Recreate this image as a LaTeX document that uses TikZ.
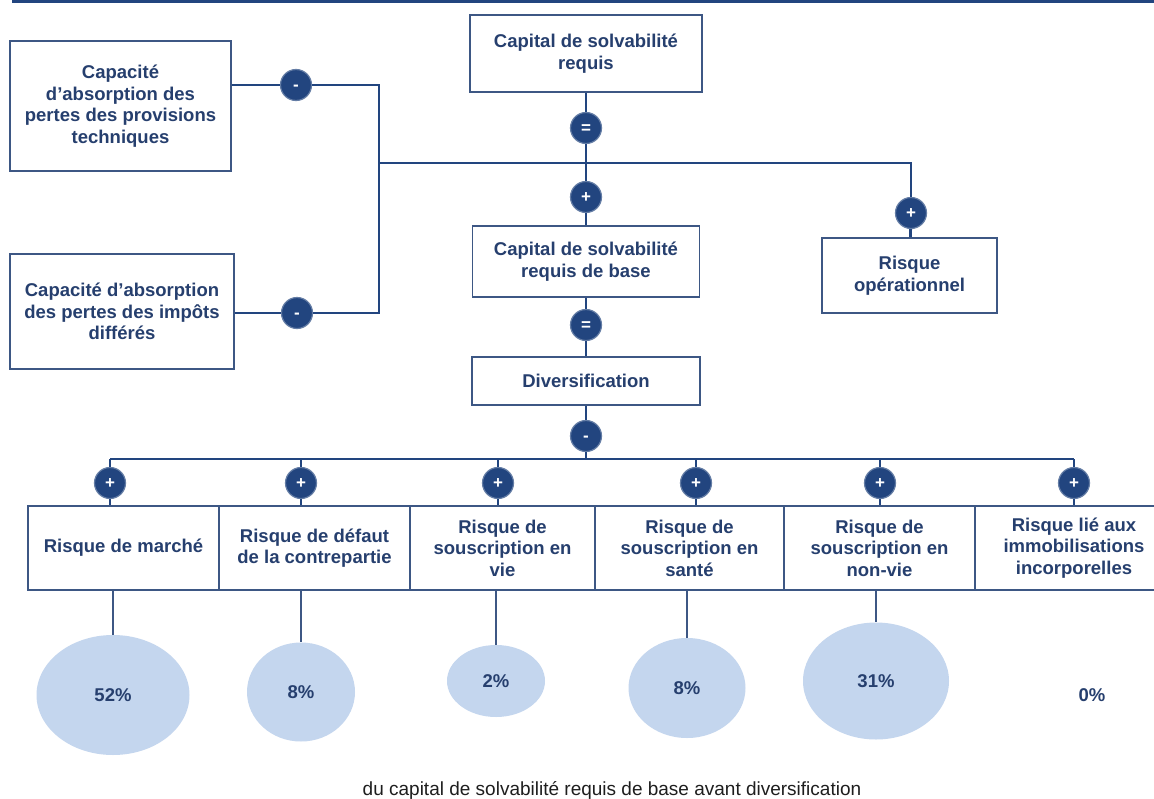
\documentclass[tikz,border=0pt]{standalone}
\usepackage{fontspec}
\setmainfont{Liberation Sans}
\usetikzlibrary{shapes.geometric}
\definecolor{navy}{HTML}{22457F}
\definecolor{txt}{HTML}{263F6E}
\definecolor{bord}{HTML}{3D5784}
\definecolor{bub}{HTML}{C4D6EE}
\definecolor{capc}{HTML}{1E1E1E}
\begin{document}
\begin{tikzpicture}[x=1pt,y=-1pt,
 box/.style={draw=bord,line width=1.8pt,fill=white,inner sep=0pt,align=center,text=txt,font=\fontsize{18.5}{21.5}\selectfont\bfseries},
 opc/.style={circle,fill=navy,draw=navy!70!white,line width=1.2pt,minimum size=31pt,inner sep=0pt,text=white,text height=11.6pt,text depth=0pt,font=\fontsize{17}{17}\selectfont\bfseries},
 link/.style={draw=navy,line width=2.8pt},
 stem/.style={draw=bord,line width=1.3pt},
 bubble/.style={ellipse,fill=bub,inner sep=0pt,text=txt,font=\fontsize{18.5}{18.5}\selectfont\bfseries},
 pct/.style={text=txt,font=\fontsize{18.5}{18.5}\selectfont\bfseries},
 capt/.style={text=capc,font=\fontsize{19}{19}\selectfont}
]
\useasboundingbox (0,0) rectangle (1154,798);
\clip (0,0) rectangle (1154,798);
\fill[white] (0,0) rectangle (1154,798);

% top rule
\coordinate (TL) at (12,1.5);
\coordinate (TR) at (1154,1.5);
\draw[draw=navy,line width=3pt] (TL) -- (TR);

% upper boxes
\node[box,minimum width=221pt,minimum height=130pt] (A1) at (120.5,106) {Capacité\\d’absorption des\\pertes des provisions\\techniques};
\node[box,minimum width=224pt,minimum height=115pt] (A2) at (122,311.5) {Capacité d’absorption\\des pertes des impôts\\différés};
\node[box,minimum width=232pt,minimum height=77pt] (C1) at (586,53.5) {Capital de solvabilité\\requis};
\node[box,minimum width=227pt,minimum height=71pt] (C2) at (586,261.5) {Capital de solvabilité\\requis de base};
\node[box,minimum width=228pt,minimum height=48pt] (C3) at (586,381) {Diversification};
\node[box,minimum width=175pt,minimum height=75pt] (OP) at (909.5,275.5) {Risque\\opérationnel};

% operators
\node[opc] (m1) at (296,85) {-};
\node[opc] (m2) at (297,313) {-};
\node[opc] (e1) at (586,128) {=};
\node[opc] (p1) at (586,197) {+};
\node[opc] (pop) at (911,213) {+};
\node[opc] (e2) at (586,325) {=};
\node[opc] (m3) at (586,436) {-};

\coordinate (K) at (379,85);
\coordinate (L) at (379,313);
\coordinate (J) at (379,163);
\coordinate (BT) at (586,459);

% upper connectors
\draw[link] (A1.east |- m1) -- (m1);
\draw[link] (m1) -- (K) -- (L) -- (m2);
\draw[link] (m2) -- (A2.east |- m2);
\draw[link] (J) -- (J -| pop) -- (pop);
\draw[link] (pop) -- (OP);
\draw[link] (C1) -- (e1);
\draw[link] (e1) -- (p1);
\draw[link] (p1) -- (C2);
\draw[link] (C2) -- (e2);
\draw[link] (e2) -- (C3);
\draw[link] (C3) -- (m3);
\draw[link] (m3) -- (BT);

% risk boxes
\node[box,minimum width=191pt,minimum height=84pt] (R1) at (123.5,548) {Risque de marché};
\node[box,minimum width=191pt,minimum height=84pt] (R2) at (314.5,548) {Risque de défaut\\de la contrepartie};
\node[box,minimum width=185pt,minimum height=84pt] (R3) at (502.5,548) {Risque de\\souscription en\\vie};
\node[box,minimum width=189pt,minimum height=84pt] (R4) at (689.5,548) {Risque de\\souscription en\\santé};
\node[box,minimum width=191pt,minimum height=84pt] (R5) at (879.5,548) {Risque de\\souscription en\\non-vie};
\node[box,minimum width=198pt,minimum height=84pt] (R6) at (1074,548) {Risque lié aux\\immobilisations\\incorporelles};

\node[opc] (q1) at (110,483) {+};
\node[opc] (q2) at (301,483) {+};
\node[opc] (q3) at (498,483) {+};
\node[opc] (q4) at (696,483) {+};
\node[opc] (q5) at (880,483) {+};
\node[opc] (q6) at (1074,483) {+};

\draw[link] (q1 |- BT) -- (q6 |- BT);
\foreach \q/\r in {q1/R1,q2/R2,q3/R3,q4/R4,q5/R5,q6/R6}{
  \draw[link] (\q |- BT) -- (\q);
  \draw[link] (\q) -- (\q |- \r.north);
}

% bubbles
\node[bubble,minimum width=153pt,minimum height=120pt] (b1) at (113,695) {52\%};
\node[bubble,minimum width=108pt,minimum height=99pt] (b2) at (301,692) {8\%};
\node[bubble,minimum width=98pt,minimum height=72pt] (b3) at (496,681) {2\%};
\node[bubble,minimum width=117pt,minimum height=100pt] (b4) at (687,688) {8\%};
\node[bubble,minimum width=146pt,minimum height=117pt] (b5) at (876,681) {31\%};
\node[pct] (b6) at (1092,695) {0\%};

\draw[stem] (R1.south -| b1) -- (b1);
\draw[stem] (R2.south -| b2) -- (b2);
\draw[stem] (R3.south -| b3) -- (b3);
\draw[stem] (R4.south -| b4) -- (b4);
\draw[stem] (R5.south -| b5) -- (b5);

% caption
\node[capt,anchor=base] (cap) at (612,795) {du capital de solvabilité requis de base avant diversification};
\end{tikzpicture}
\end{document}
